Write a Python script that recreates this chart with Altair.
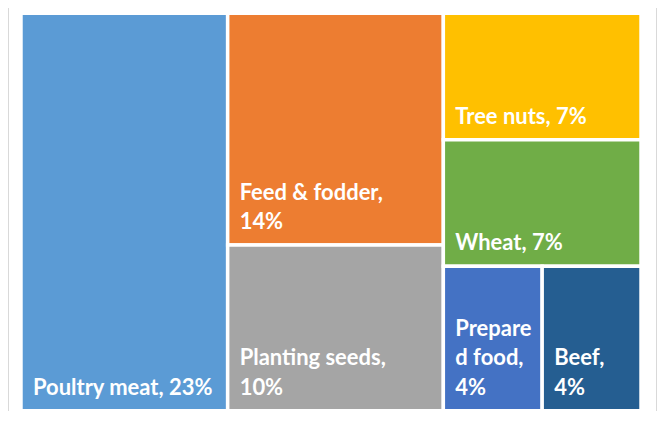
import altair as alt
import pandas as pd

# ---- data ----
categories = ["Poultry meat", "Feed & fodder", "Planting seeds", "Tree nuts",
              "Wheat", "Prepared food", "Beef"]
values = [23, 14, 10, 7, 7, 4, 4]
labels = ["Poultry meat, 23%", "Feed & fodder,\n14%", "Planting seeds,\n10%",
          "Tree nuts, 7%", "Wheat, 7%", "Prepare\nd food,\n4%", "Beef,\n4%"]
colors = ["#5B9BD5", "#ED7D31", "#A5A5A5", "#FFC000", "#70AD47", "#4472C4", "#255E91"]

W, H = 621, 398  # layout space (data units = pixels)
LINE_H = 29.5


# ---- squarified treemap layout ----
def layout_row(row, x, y, w, h):
    s = sum(row)
    out = []
    if w >= h:
        cw = s / h
        yy = y
        for a in row:
            rh = a / cw
            out.append((x, yy, x + cw, yy + rh))
            yy += rh
        return out, (x + cw, y, w - cw, h)
    rh = s / w
    xx = x
    for a in row:
        rw = a / rh
        out.append((xx, y, xx + rw, y + rh))
        xx += rw
    return out, (x, y + rh, w, h - rh)


def worst(row, side):
    s = sum(row)
    return max(max(side * side * a / (s * s), s * s / (side * side * a)) for a in row)


def squarify(vals, x, y, w, h):
    total = sum(vals)
    areas = [v * w * h / total for v in vals]
    rects, row, i = [], [], 0
    while i < len(areas):
        side = min(w, h)
        a = areas[i]
        if not row or worst(row + [a], side) <= worst(row, side):
            row.append(a)
            i += 1
        else:
            r, (x, y, w, h) = layout_row(row, x, y, w, h)
            rects += r
            row = []
    if row:
        r, _ = layout_row(row, x, y, w, h)
        rects += r
    return rects


rects = squarify(values, 0, 0, W, H)
df = pd.DataFrame({
    "category": categories,
    "value": values,
    "label": labels,
    "x0": [r[0] for r in rects],
    "y0": [r[1] for r in rects],
    "x1": [r[2] for r in rects],
    "y1": [r[3] for r in rects],
})
# first text line sits (n-1) line heights above the bottom-anchored last line
df["ty"] = df["y1"] - (df["label"].str.count("\n")) * LINE_H

xs = alt.Scale(domain=[0, W], nice=False, zero=False)
ys = alt.Scale(domain=[0, H], nice=False, zero=False, reverse=True)

base = alt.Chart(df)

boxes = base.mark_rect(stroke="white", strokeWidth=3.5).encode(
    x=alt.X("x0:Q", scale=xs, axis=None),
    x2="x1:Q",
    y=alt.Y("y0:Q", scale=ys, axis=None),
    y2="y1:Q",
    color=alt.Color("category:N", scale=alt.Scale(domain=categories, range=colors), legend=None),
    tooltip=["category:N", "value:Q"],
)

texts = base.mark_text(
    align="left", baseline="bottom", dx=12, dy=-11,
    font="Lato", fontSize=22, fontWeight="bold", color="white",
    lineBreak="\n", lineHeight=LINE_H,
).encode(
    x=alt.X("x0:Q", scale=xs, axis=None),
    y=alt.Y("ty:Q", scale=ys, axis=None),
    text="label:N",
)

border_left = alt.Chart(df).mark_rule(color="#d9d9d9", strokeWidth=1).encode(
    x=alt.value(-12.5), y=alt.value(-5), y2=alt.value(H)
)
border_right = alt.Chart(df).mark_rule(color="#d9d9d9", strokeWidth=1).encode(
    x=alt.value(636.5), y=alt.value(-5), y2=alt.value(H)
)

chart = alt.layer(boxes, texts, border_left, border_right).properties(
    width=W, height=H,
    autosize=alt.AutoSizeParams(type="none"),
    padding={"left": 13, "top": 5, "right": 16, "bottom": 0},
    background="white",
).configure_view(stroke=None)

chart.save("out.html", embed_options={"renderer": "svg", "actions": False})
